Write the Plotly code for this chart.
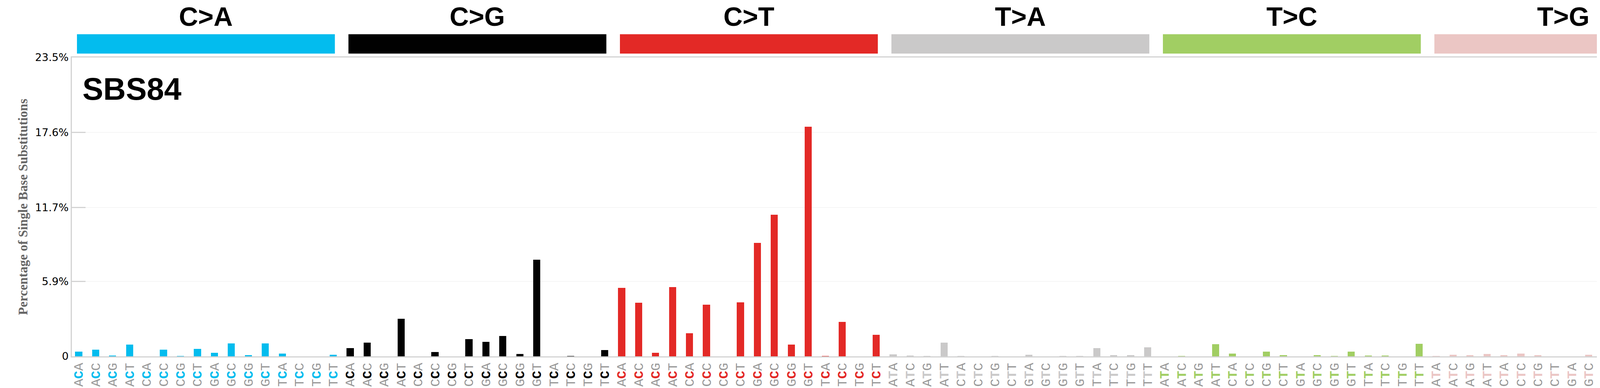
import plotly.graph_objects as go

mut_types = ["C>A", "C>G", "C>T", "T>A", "T>C", "T>G"]
type_colors = ["#03BCEE", "#010101", "#E32926", "#CAC9C9", "#A1CE63", "#EBC6C4"]
contexts_C = ["ACA","ACC","ACG","ACT","CCA","CCC","CCG","CCT","GCA","GCC","GCG","GCT","TCA","TCC","TCG","TCT"]
contexts_T = ["ATA","ATC","ATG","ATT","CTA","CTC","CTG","CTT","GTA","GTC","GTG","GTT","TTA","TTC","TTG","TTT"]

v_CA = [0.37,0.53,0.06,0.91,0.0,0.53,0.02,0.58,0.27,1.03,0.08,1.01,0.21,0.0,0.0,0.12]
v_CG = [0.66,1.07,0.0,2.94,0.0,0.33,0.0,1.34,1.13,1.60,0.18,7.59,0.0,0.02,0.0,0.49]
v_CT = [5.37,4.20,0.27,5.43,1.81,4.05,0.0,4.24,8.91,11.15,0.91,18.05,0.02,2.70,0.0,1.69]
v_TA = [0.16,0.06,0.02,1.07,0.02,0.0,0.02,0.0,0.12,0.0,0.02,0.02,0.66,0.08,0.08,0.70]
v_TC = [0.0,0.02,0.0,0.95,0.23,0.0,0.37,0.08,0.0,0.08,0.02,0.37,0.06,0.06,0.0,0.97]
v_TG = [0.02,0.12,0.08,0.18,0.08,0.21,0.08,0.0,0.0,0.12,0.02,0.16,0.18,0.08,0.0,0.66]

y_ticks = [0, 5.9, 11.7, 17.6, 23.5]
y_tick_labels = ["0", "5.9%", "11.7%", "17.6%", "23.5%"]
y_max = 23.5
signature = "SBS84"

values = [v_CA, v_CG, v_CT, v_TA, v_TC, v_TG]
fig = go.Figure()
xs, ys, cols, ticktext = [], [], [], []
for k, (vals, col) in enumerate(zip(values, type_colors)):
    ctx = contexts_C if k < 3 else contexts_T
    for i, c in enumerate(ctx):
        xs.append(k * 16 + i)
        ys.append(vals[i])
        cols.append(col)
        ticktext.append(f"{c[0]}<span style='color:{col};font-weight:bold'>{c[1]}</span>{c[2]}")

fig.add_trace(go.Bar(x=xs, y=ys, marker=dict(color=cols, line=dict(width=0)), width=0.42, showlegend=False))

for k, (m, col) in enumerate(zip(mut_types, type_colors)):
    fig.add_shape(type="rect", xref="x", yref="paper", x0=k*16-0.1, x1=k*16+15.1, y0=1.013, y1=1.078,
                  fillcolor=col, line=dict(width=0), layer="above")
    fig.add_annotation(x=k*16+7.5, xref="x", y=1.085, yref="paper", yanchor="bottom",
                       text=f"<b>{m}</b>", showarrow=False,
                       font=dict(family="Liberation Sans", size=68, color="black"))

fig.add_annotation(x=0.006, xref="paper", y=0.895, yref="paper", text=f"<b>{signature}</b>", showarrow=False,
                   xanchor="left", yanchor="middle", font=dict(family="Liberation Sans", size=80, color="black"))

fig.update_layout(
    width=4393, height=992, autosize=False, plot_bgcolor="white", paper_bgcolor="white",
    margin=dict(l=176, r=47, t=139, b=89, autoexpand=False), bargap=0,
    xaxis=dict(range=[-0.4, 95.6], tickmode="array", tickvals=xs, ticktext=ticktext, tickangle=270,
               tickfont=dict(family="Liberation Mono", size=34, color="#999999"), automargin=False,
               showgrid=False, showline=True, linecolor="#D3D3D3", linewidth=3, mirror=True, ticks=""),
    yaxis=dict(range=[0, y_max], tickmode="array", tickvals=y_ticks, ticktext=y_tick_labels,
               tickfont=dict(family="DejaVu Sans", size=27, color="black"), automargin=False,
               showgrid=True, gridcolor="#EEEEEE", gridwidth=1,
               showline=True, linecolor="#D3D3D3", linewidth=3, mirror="allticks",
               ticks="inside", ticklen=35, tickcolor="#D3D3D3", tickwidth=3,
               title=dict(text="<b>Percentage of Single Base Substitutions</b>", standoff=10,
                          font=dict(family="Liberation Serif", size=33, color="#666666"))),
)
fig.write_html("out.html", config={"responsive": False})
